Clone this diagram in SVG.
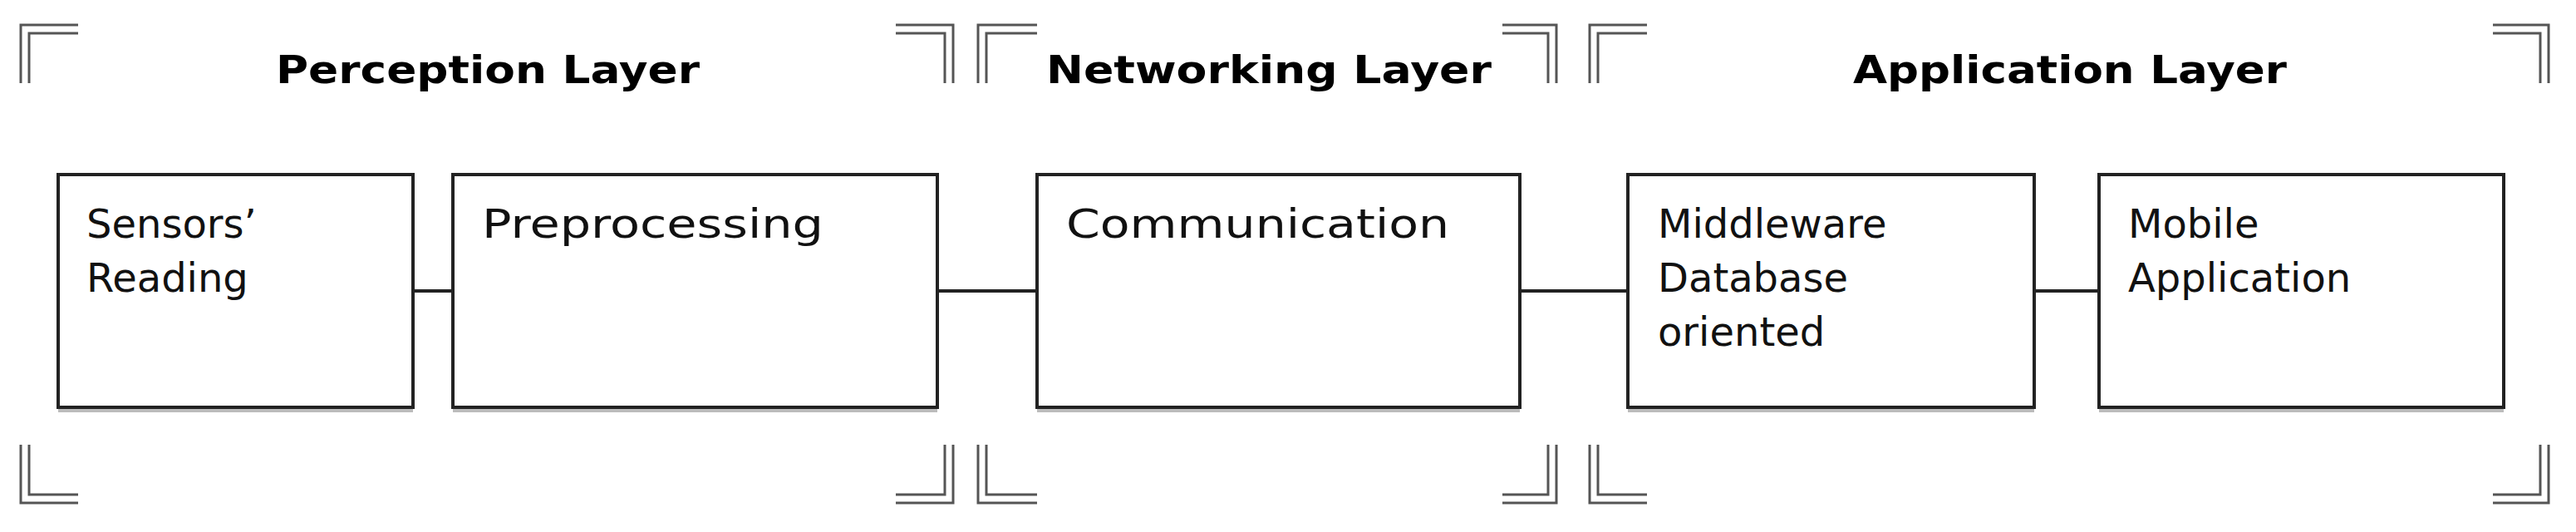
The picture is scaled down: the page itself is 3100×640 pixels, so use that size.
<svg xmlns="http://www.w3.org/2000/svg" width="3100" height="640" viewBox="0 0 3100 640">
<style>
.br{fill:none;stroke:#555;stroke-width:13;stroke-linejoin:miter}
.bi{fill:none;stroke:#fff;stroke-width:7;stroke-linejoin:miter}
.box{fill:#fff;stroke:#222;stroke-width:4}
.sh{fill:none;stroke:#bbb;stroke-width:4}
.t{font-family:"DejaVu Sans",Verdana,sans-serif;font-size:48px;fill:#111}
.h{font-family:"DejaVu Sans",Verdana,sans-serif;font-size:46px;font-weight:bold;fill:#000}
.c{stroke:#222;stroke-width:4}
</style>
<defs>
<g id="brk">
</g>
</defs>
<g id="brackets">
<path class="br" d="M30,100V35H94M1078,35H1142V100M30,535V600H94M1142,535V600H1078"/>
<path class="bi" d="M30,100V35H94M1078,35H1142V100M30,535V600H94M1142,535V600H1078"/>
<path class="br" d="M1182,100V35H1248M1808,35H1868V100M1182,535V600H1248M1868,535V600H1808"/>
<path class="bi" d="M1182,100V35H1248M1808,35H1868V100M1182,535V600H1248M1868,535V600H1808"/>
<path class="br" d="M1918,100V35H1982M3000,35H3062V100M1918,535V600H1982M3062,535V600H3000"/>
<path class="bi" d="M1918,100V35H1982M3000,35H3062V100M1918,535V600H1982M3062,535V600H3000"/>
</g>
<g id="titles">
<text class="h" x="332" y="100" textLength="510" lengthAdjust="spacingAndGlyphs">Perception Layer</text>
<text class="h" x="1259" y="100" textLength="536" lengthAdjust="spacingAndGlyphs">Networking Layer</text>
<text class="h" x="2230" y="100" textLength="522" lengthAdjust="spacingAndGlyphs">Application Layer</text>
</g>
<g id="connectors">
<line class="c" x1="497" y1="350" x2="545" y2="350"/>
<line class="c" x1="1128" y1="350" x2="1248" y2="350"/>
<line class="c" x1="1829" y1="350" x2="1959" y2="350"/>
<line class="c" x1="2448" y1="350" x2="2526" y2="350"/>
</g>
<g id="n1"><line class="sh" x1="70" y1="494" x2="497" y2="494"/><rect class="box" x="70" y="210" width="427" height="280"/>
<text class="t" x="104" y="286">Sensors’</text><text class="t" x="104" y="351">Reading</text></g>
<g id="n2"><line class="sh" x1="545" y1="494" x2="1128" y2="494"/><rect class="box" x="545" y="210" width="583" height="280"/>
<text class="t" x="580" y="286" textLength="411" lengthAdjust="spacingAndGlyphs">Preprocessing</text></g>
<g id="n3"><line class="sh" x1="1248" y1="494" x2="1829" y2="494"/><rect class="box" x="1248" y="210" width="581" height="280"/>
<text class="t" x="1283" y="286" textLength="461" lengthAdjust="spacingAndGlyphs">Communication</text></g>
<g id="n4"><line class="sh" x1="1959" y1="494" x2="2448" y2="494"/><rect class="box" x="1959" y="210" width="489" height="280"/>
<text class="t" x="1995" y="286">Middleware</text><text class="t" x="1995" y="351">Database</text><text class="t" x="1995" y="416">oriented</text></g>
<g id="n5"><line class="sh" x1="2526" y1="494" x2="3013" y2="494"/><rect class="box" x="2526" y="210" width="487" height="280"/>
<text class="t" x="2561" y="286">Mobile</text><text class="t" x="2561" y="351">Application</text></g>
</svg>
